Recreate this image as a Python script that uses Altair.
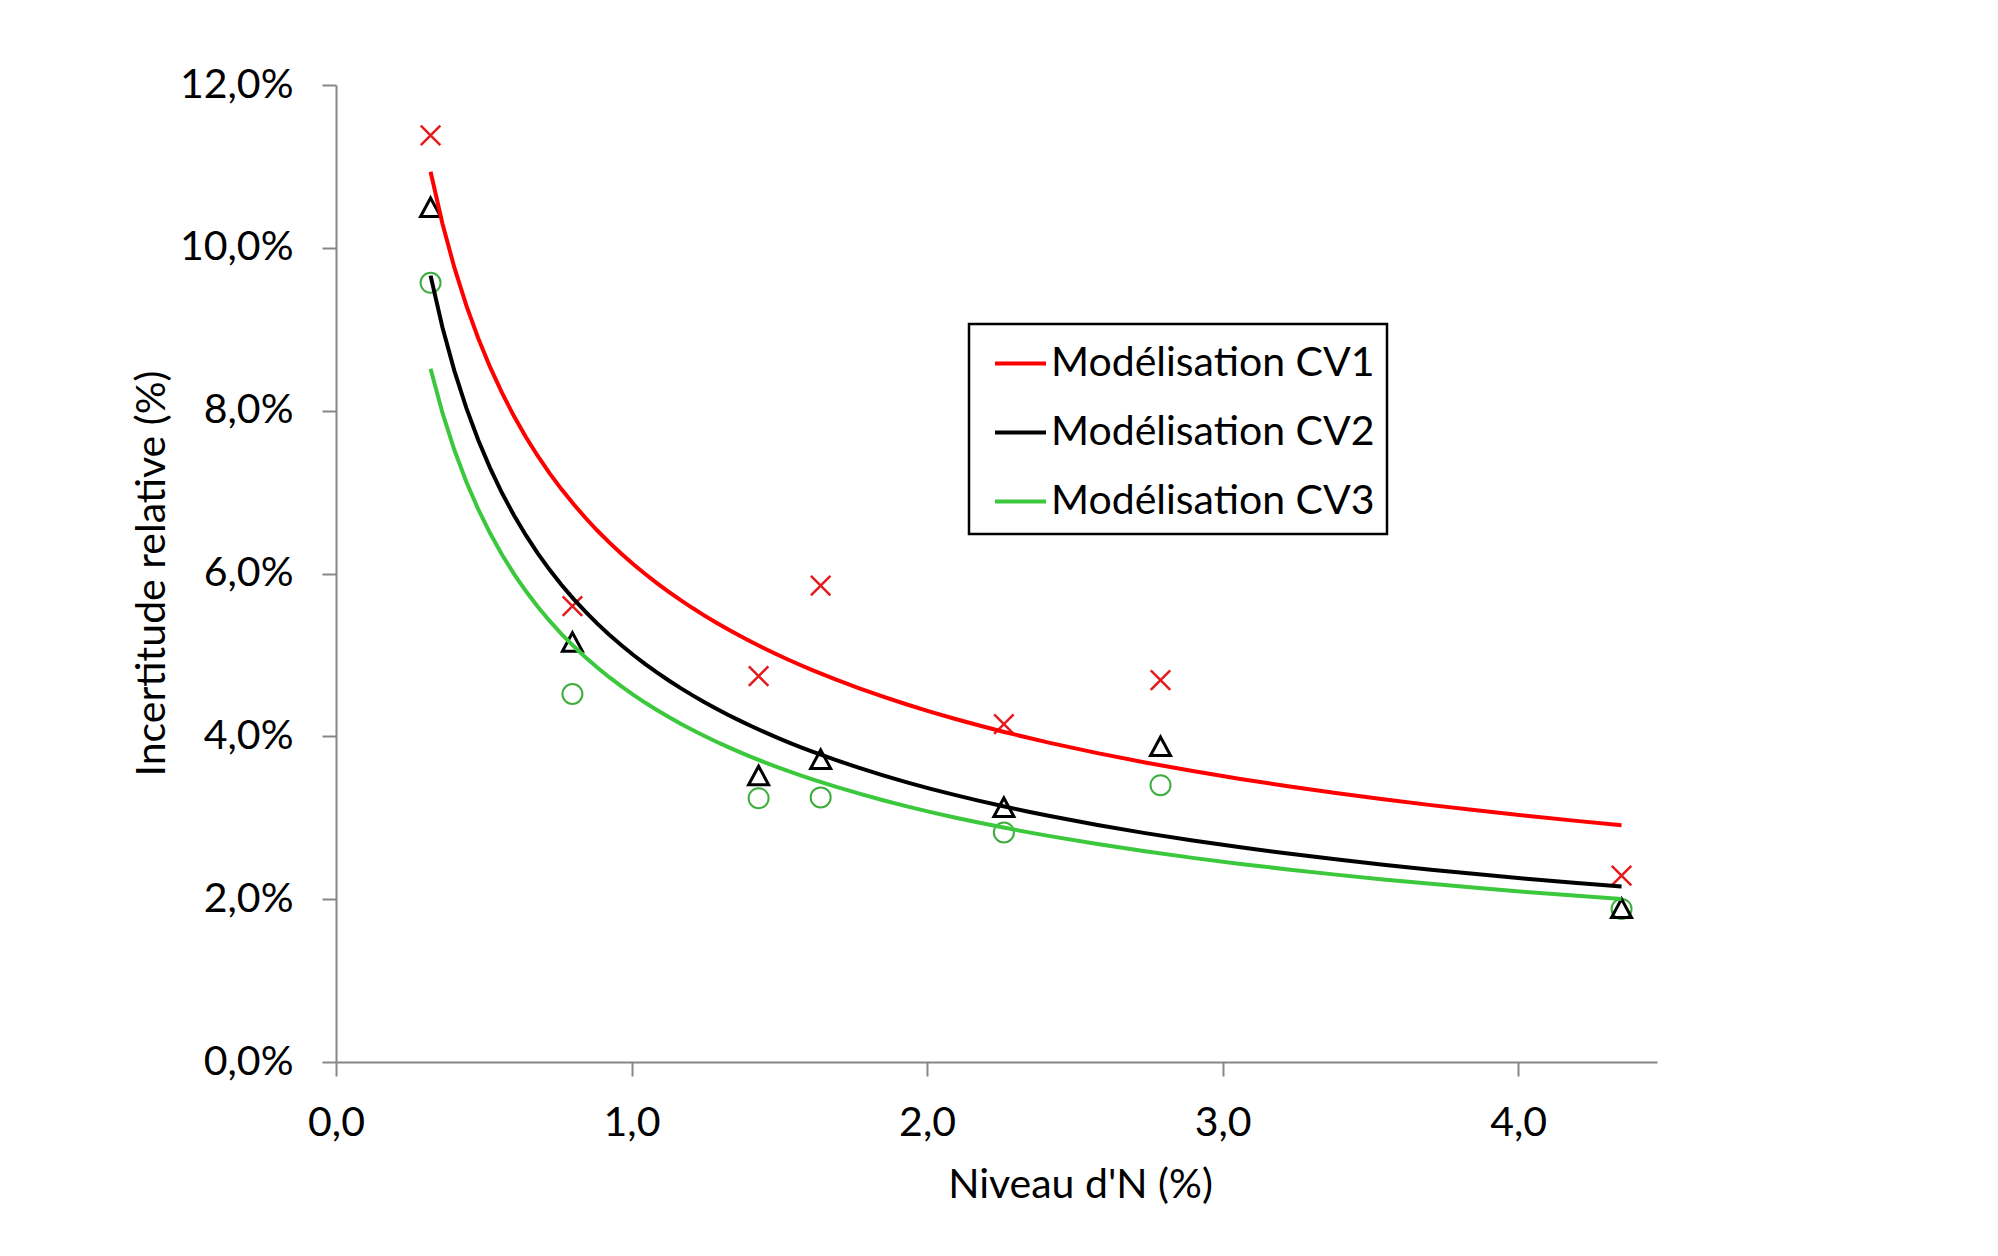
import altair as alt
import pandas as pd

# ---- data ----
niveau_n = [0.32, 0.80, 1.43, 1.64, 2.26, 2.79, 4.35]
cv1 = [0.1138, 0.0560, 0.0474, 0.0585, 0.0415, 0.0469, 0.0229]
cv2 = [0.1049, 0.0515, 0.0351, 0.0371, 0.0312, 0.0387, 0.0188]
cv3 = [0.0957, 0.0452, 0.0324, 0.0325, 0.0282, 0.0340, 0.0188]
series_names = ["Modélisation CV1", "Modélisation CV2", "Modélisation CV3"]
line_colors = ["#FF0000", "#000000", "#3CC83C"]
x_ticks = [0, 1, 2, 3, 4]
y_ticks = [0.0, 0.02, 0.04, 0.06, 0.08, 0.10, 0.12]

rows = []
for name, vals in zip(series_names, [cv1, cv2, cv3]):
    for xv, yv in zip(niveau_n, vals):
        rows.append({"serie": name, "x": xv, "y": yv})
df = pd.DataFrame(rows)

FONT = "Lato"
FS = 41

x_enc = alt.X(
    "x:Q",
    scale=alt.Scale(domain=[0, 4.47], nice=False, zero=False),
    axis=alt.Axis(
        values=x_ticks,
        labelExpr="replace(format(datum.value, '.1f'), '.', ',')",
        title="Niveau d'N (%)",
        titleX=744,
        titleY=135,
        titleAlign="center",
        titleBaseline="alphabetic",
        labelPadding=27,
        labelFlush=False,
    ),
)
y_enc = alt.Y(
    "y:Q",
    scale=alt.Scale(domain=[0, 0.12], nice=False),
    axis=alt.Axis(
        values=y_ticks,
        labelExpr="replace(format(datum.value, '.1%'), '.', ',')",
        title="Incertitude relative (%)",
        titleX=-172,
        titleY=488,
        titleAngle=-90,
        titleAlign="center",
        titleBaseline="alphabetic",
        labelPadding=29,
        labelFlush=False,
    ),
)

base = alt.Chart(df)

circles = base.transform_filter(alt.datum.serie == series_names[2]).mark_point(
    shape="circle", size=400, filled=False, color="#3DAE3D", strokeWidth=2, opacity=1
).encode(x=x_enc, y=y_enc)

triangles = base.transform_filter(alt.datum.serie == series_names[1]).mark_point(
    shape="M0,-1L1,0.85L-1,0.85Z", size=400, filled=False, color="#000000", strokeWidth=3, opacity=1
).encode(x=x_enc, y=y_enc)

crosses = base.transform_filter(alt.datum.serie == series_names[0]).mark_point(
    shape="M-1,-1L1,1M-1,1L1,-1", size=380, filled=False, color="#E41A1C", strokeWidth=2.5, opacity=1
).encode(x=x_enc, y=y_enc)

lines = base.transform_regression(
    "x", "y", method="pow", groupby=["serie"]
).mark_line(strokeWidth=4).encode(
    x=x_enc,
    y=y_enc,
    color=alt.Color(
        "serie:N",
        scale=alt.Scale(domain=series_names, range=line_colors),
        legend=alt.Legend(
            title=None,
            orient="none",
            legendX=633,
            legendY=239,
            symbolType="stroke",
            symbolSize=2601,
            symbolStrokeWidth=4,
            symbolOffset=12,
            labelFont=FONT,
            labelFontSize=FS,
            labelColor="black",
            labelLimit=800,
            labelOffset=3,
            padding=12,
            rowPadding=21,
            strokeColor="black",
        ),
    ),
)

chart = alt.layer(circles, triangles, crosses, lines).properties(
    width=1321,
    height=977,
    autosize="none",
    padding={"left": 328, "top": 77, "right": 300, "bottom": 170},
    background="white",
).configure_view(stroke=None).configure_axis(
    grid=False,
    domainColor="#868686",
    domainWidth=2,
    tickColor="#868686",
    tickWidth=2,
    tickSize=14,
    labelFont=FONT,
    labelFontSize=FS,
    labelColor="black",
    titleFont=FONT,
    titleFontSize=FS,
    titleFontWeight="normal",
    titleColor="black",
).configure_legend(strokeWidth=2.5)

chart.save("out.html", embed_options={"renderer": "svg", "actions": False})
